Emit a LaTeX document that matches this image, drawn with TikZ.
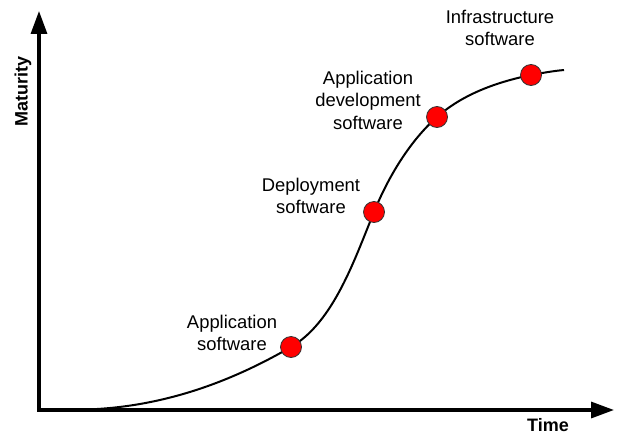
\documentclass[tikz,border=0pt]{standalone}
\usepackage{fontspec}
\setmainfont{Liberation Sans}
\usetikzlibrary{arrows.meta}
\begin{document}
\begin{tikzpicture}[x=1pt,y=-1pt,
  axis/.style={line width=3.3pt,-{Triangle[length=23pt,width=16pt]}},
  lbl/.style={align=center,font=\fontsize{18.4}{22.5}\selectfont,inner sep=0pt},
  axlbl/.style={font=\fontsize{18}{22}\selectfont\bfseries,inner sep=0pt},
  dot/.style={circle,fill=red,draw=black!80,line width=0.8pt,minimum size=21pt,inner sep=0pt},
  curve/.style={line width=2pt}]
\useasboundingbox (0,0) rectangle (617,436);
\coordinate (o) at (39,410);
\coordinate (ytip) at (39,11);
\coordinate (xtip) at (614,410);
\draw[axis] ([yshift=1.6pt]o) -- (ytip);
\draw[axis] ([xshift=-1.6pt]o) -- (xtip);
\node[axlbl,rotate=90] (maturity) at (23,91) {Maturity};
\node[axlbl] (time) at (548,425) {Time};
\coordinate (c0) at (97,409);
\coordinate (d1) at (291,347);
\coordinate (d2) at (374,212);
\coordinate (d3) at (437,117);
\coordinate (d4) at (531,75);
\coordinate (c9) at (564,70);
\draw[curve] (c0) .. controls (180,404) and (246,373) .. (d1)
  .. controls (334,322) and (355,258) .. (d2)
  .. controls (389,175) and (411,140) .. (d3)
  .. controls (463,94) and (497,82) .. (d4)
  .. controls (542,73) and (553,71) .. (c9);
\node[dot] (p1) at (d1) {};
\node[dot] (p2) at (d2) {};
\node[dot] (p3) at (d3) {};
\node[dot] (p4) at (d4) {};
\node[lbl] (l1) at (232,333) {Application\\software};
\node[lbl] (l2) at (311,196) {Deployment\\software};
\node[lbl] (l3) at (368,100) {Application\\development\\software};
\node[lbl] (l4) at (500,28) {Infrastructure\\software};
\end{tikzpicture}
\end{document}
